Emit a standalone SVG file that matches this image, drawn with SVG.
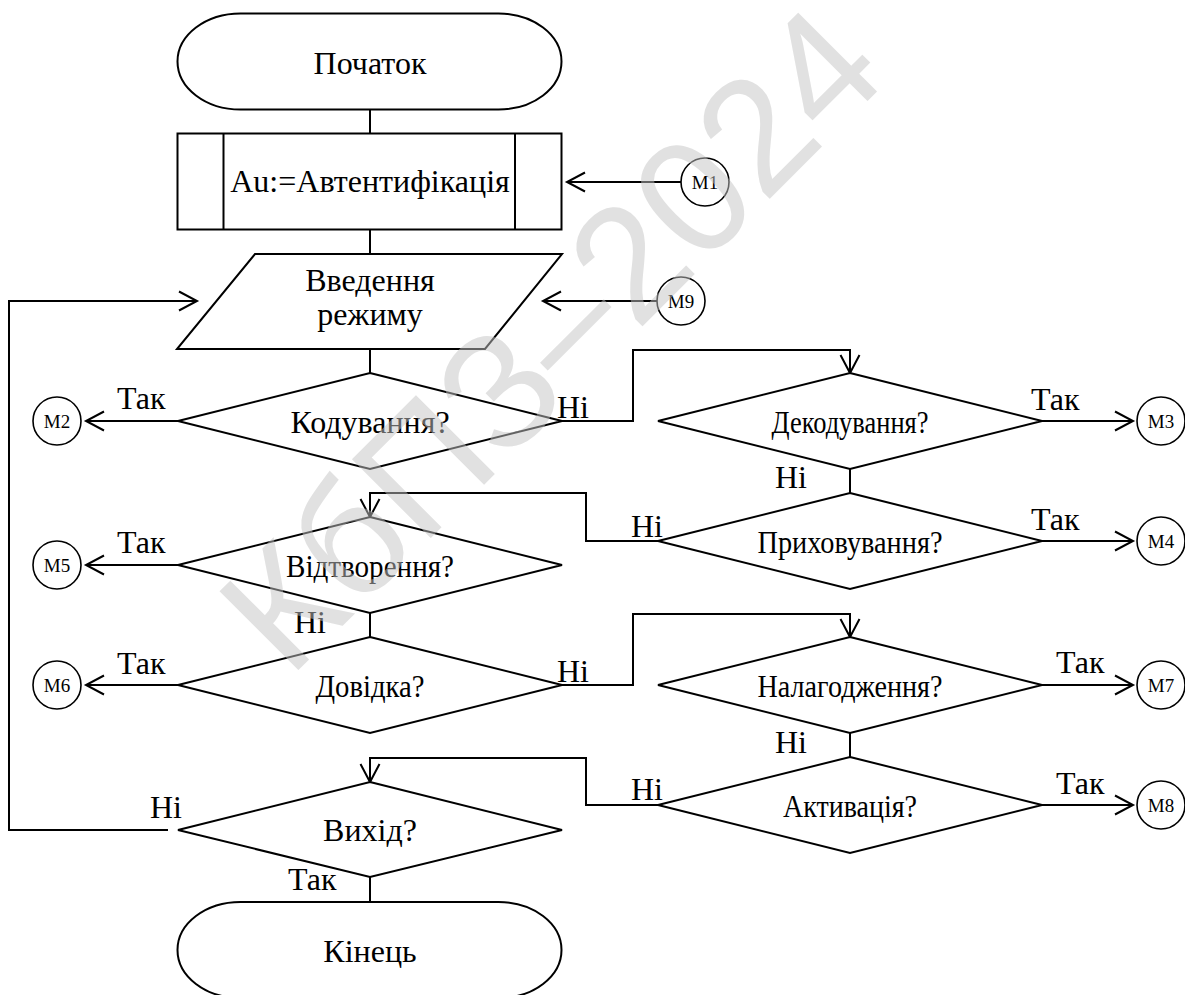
<svg xmlns="http://www.w3.org/2000/svg" width="1185" height="995" viewBox="0 0 1185 995">
  <style>
    .shape { fill: #ffffff; stroke: #000000; stroke-width: 2; }
    .conn { fill: none; stroke: #000000; stroke-width: 2; }
    .conn-arrow { fill: none; stroke: #000000; stroke-width: 2; marker-end: url(#arr); }
    .circ { fill: #ffffff; stroke: #000000; stroke-width: 1.6; }
    .t { font-family: 'Liberation Serif', 'DejaVu Serif', serif; font-size: 32px; fill: #000000; }
    .c { text-anchor: middle; }
    .m { font-family: 'Liberation Serif', 'DejaVu Serif', serif; font-size: 19px; fill: #000000; text-anchor: middle; }
    .wm { font-family: 'Liberation Sans', sans-serif; font-size: 162px; fill: #c4c4c4; opacity: 0.5; text-anchor: middle; }
  </style>
  <defs>
    <marker id="arr" markerUnits="userSpaceOnUse" markerWidth="24" markerHeight="24" refX="0" refY="0" orient="auto" overflow="visible">
      <path d="M-18,-9.5 L0,0 L-18,9.5" fill="none" stroke="#000000" stroke-width="2"/>
    </marker>
  </defs>
  <rect width="1185" height="995" fill="#ffffff"/>

  <!-- connectors -->
  <g id="connectors">
    <!-- main column -->
    <line class="conn" x1="370" y1="109" x2="370" y2="134"/>
    <line class="conn" x1="370" y1="229" x2="370" y2="254"/>
    <line class="conn" x1="370" y1="349" x2="370" y2="373"/>
    <line class="conn" x1="370" y1="613" x2="370" y2="637"/>
    <line class="conn" x1="370" y1="877" x2="370" y2="902"/>
    <!-- right column -->
    <line class="conn" x1="850" y1="469" x2="850" y2="493"/>
    <line class="conn" x1="850" y1="733" x2="850" y2="757"/>
    <!-- off-page entries -->
    <line class="conn-arrow" x1="681" y1="182" x2="567" y2="182"/>
    <line class="conn-arrow" x1="657" y1="301" x2="543" y2="301"/>
    <!-- loop back from exit check -->
    <polyline class="conn-arrow" points="168,830 9,830 9,301 197,301"/>
    <!-- "no" branches between columns -->
    <polyline class="conn-arrow" points="562,421 633,421 633,350 850,350 850,373"/>
    <polyline class="conn-arrow" points="658,541 586,541 586,493 370,493 370,517"/>
    <polyline class="conn-arrow" points="562,685 633,685 633,614 850,614 850,637"/>
    <polyline class="conn-arrow" points="658,805 586,805 586,758 370,758 370,782"/>
    <!-- "yes" branches to connectors -->
    <line class="conn-arrow" x1="178" y1="421" x2="86" y2="421"/>
    <line class="conn-arrow" x1="178" y1="565" x2="86" y2="565"/>
    <line class="conn-arrow" x1="178" y1="685" x2="86" y2="685"/>
    <line class="conn-arrow" x1="1042" y1="421" x2="1133" y2="421"/>
    <line class="conn-arrow" x1="1042" y1="541" x2="1133" y2="541"/>
    <line class="conn-arrow" x1="1042" y1="685" x2="1133" y2="685"/>
    <line class="conn-arrow" x1="1042" y1="805" x2="1133" y2="805"/>
  </g>

  <!-- branch labels -->
  <g id="labels">
    <text class="t" x="117" y="409">Так</text>
    <text class="t" x="557" y="418">Ні</text>
    <text class="t" x="1031" y="410">Так</text>
    <text class="t" x="775" y="488">Ні</text>
    <text class="t" x="631" y="537">Ні</text>
    <text class="t" x="1031" y="530">Так</text>
    <text class="t" x="117" y="553">Так</text>
    <text class="t" x="294" y="633">Ні</text>
    <text class="t" x="117" y="674">Так</text>
    <text class="t" x="557" y="682">Ні</text>
    <text class="t" x="1056" y="673">Так</text>
    <text class="t" x="775" y="753">Ні</text>
    <text class="t" x="631" y="800">Ні</text>
    <text class="t" x="1056" y="794">Так</text>
    <text class="t" x="150" y="818">Ні</text>
    <text class="t" x="288" y="890">Так</text>
  </g>

  <g id="start">
    <rect class="shape" x="177.5" y="13.5" width="384" height="96" rx="63" ry="48"/>
    <text class="t c" x="370" y="74">Початок</text>
  </g>

  <g id="auth">
    <rect class="shape" x="177.5" y="133.5" width="384" height="96"/>
    <line class="conn" x1="223.5" y1="133.5" x2="223.5" y2="229.5"/>
    <line class="conn" x1="515" y1="133.5" x2="515" y2="229.5"/>
    <text class="t c" x="370" y="192">Au:=Автентифікація</text>
  </g>

  <g id="input">
    <polygon class="shape" points="255,254 562,254 485,349 177,349"/>
    <text class="t c" x="370" y="291">Введення</text>
    <text class="t c" x="370" y="325">режиму</text>
  </g>

  <g id="encode">
    <polygon class="shape" points="370,373 562,421 370,469 178,421"/>
    <text class="t c" x="370" y="433">Кодування?</text>
  </g>

  <g id="decode">
    <polygon class="shape" points="850,373 1042,421 850,469 658,421"/>
    <text class="t c" x="850" y="433" textLength="157" lengthAdjust="spacingAndGlyphs">Декодування?</text>
  </g>

  <g id="hide">
    <polygon class="shape" points="850,493 1042,541 850,589 658,541"/>
    <text class="t c" x="850" y="553" textLength="185" lengthAdjust="spacingAndGlyphs">Приховування?</text>
  </g>

  <g id="replay">
    <polygon class="shape" points="370,517 562,565 370,613 178,565"/>
    <text class="t c" x="370" y="577" textLength="168" lengthAdjust="spacingAndGlyphs">Відтворення?</text>
  </g>

  <g id="help">
    <polygon class="shape" points="370,637 562,685 370,733 178,685"/>
    <text class="t c" x="370" y="697" textLength="109" lengthAdjust="spacingAndGlyphs">Довідка?</text>
  </g>

  <g id="debug">
    <polygon class="shape" points="850,637 1042,685 850,733 658,685"/>
    <text class="t c" x="850" y="697" textLength="185" lengthAdjust="spacingAndGlyphs">Налагодження?</text>
  </g>

  <g id="activate">
    <polygon class="shape" points="850,757 1042,805 850,853 658,805"/>
    <text class="t c" x="850" y="817" textLength="134" lengthAdjust="spacingAndGlyphs">Активація?</text>
  </g>

  <g id="exit">
    <polygon class="shape" points="370,782 562,830 370,877 178,830"/>
    <text class="t c" x="370" y="841">Вихід?</text>
  </g>

  <g id="end">
    <rect class="shape" x="177.5" y="902" width="384" height="96" rx="63" ry="48"/>
    <text class="t c" x="370" y="962">Кінець</text>
  </g>

  <!-- on-page connectors -->
  <g id="m1"><circle class="circ" cx="705" cy="182" r="24"/><text class="m" x="705" y="189">М1</text></g>
  <g id="m9"><circle class="circ" cx="681" cy="301" r="24"/><text class="m" x="681" y="308">М9</text></g>
  <g id="m2"><circle class="circ" cx="57" cy="421" r="24"/><text class="m" x="57" y="428">М2</text></g>
  <g id="m5"><circle class="circ" cx="57" cy="565" r="24"/><text class="m" x="57" y="572">М5</text></g>
  <g id="m6"><circle class="circ" cx="57" cy="685" r="24"/><text class="m" x="57" y="692">М6</text></g>
  <g id="m3"><circle class="circ" cx="1161" cy="421" r="24"/><text class="m" x="1161" y="428">М3</text></g>
  <g id="m4"><circle class="circ" cx="1161" cy="541" r="24"/><text class="m" x="1161" y="548">М4</text></g>
  <g id="m7"><circle class="circ" cx="1161" cy="685" r="24"/><text class="m" x="1161" y="692">М7</text></g>
  <g id="m8"><circle class="circ" cx="1161" cy="805" r="24"/><text class="m" x="1161" y="812">М8</text></g>

  <!-- diagonal watermark -->
  <g id="watermark">
    <text class="wm" transform="translate(550,338) rotate(-45)" x="0" y="57">КбПЗ–2024</text>
  </g>
</svg>
